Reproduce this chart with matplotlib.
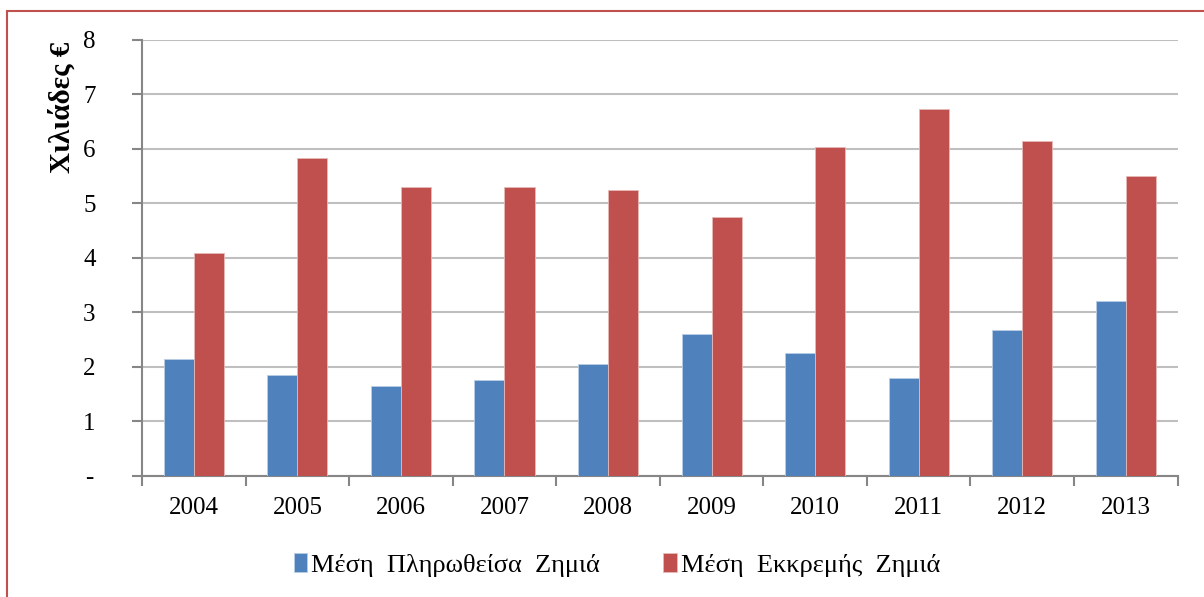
#grafica de barras: ζημιές ανά έτος

import numpy as np
import matplotlib.pyplot as plt
from matplotlib.patches import Rectangle

# datos (χιλιάδες €)
anios = ['2004', '2005', '2006', '2007', '2008', '2009', '2010', '2011', '2012', '2013']
pagada = [2.14, 1.85, 1.65, 1.76, 2.05, 2.60, 2.25, 1.79, 2.67, 3.22]
pendiente = [4.10, 5.83, 5.30, 5.30, 5.24, 4.75, 6.03, 6.73, 6.14, 5.51]
etiquetas_y = ['-', '1', '2', '3', '4', '5', '6', '7', '8']
serie1 = 'Μέση  Πληρωθείσα  Ζημιά'
serie2 = 'Μέση  Εκκρεμής  Ζημιά'

plt.rcParams['font.family'] = ['Liberation Serif', 'DejaVu Serif']

fig = plt.figure(figsize=(12.04, 5.97), dpi=100)
ax = fig.add_axes([0.118, 0.2027, 0.86, 0.7303])

x = np.arange(len(anios))
ancho = 0.29
azul = '#4F81BD'
rojo = '#C0504D'
ax.bar(x - ancho / 2, pagada, ancho, color=azul, edgecolor='#B9CDE5', linewidth=0.6,
       label=serie1, zorder=3)
ax.bar(x + ancho / 2, pendiente, ancho, color=rojo, edgecolor='#E6B9B8', linewidth=0.6,
       label=serie2, zorder=3)

ax.set_xlim(-0.5, len(anios) - 0.5)
ax.set_ylim(0, 8)
ax.set_yticks(np.arange(0, 9))
ax.set_yticklabels(etiquetas_y)
for t in ax.get_yticklabels():
    t.set_ha('center')
ax.set_xticks(x)
ax.set_xticklabels(anios)
ax.set_xticks(np.arange(-0.5, len(anios)), minor=True)

gris = '#868686'
ax.grid(axis='y', color='#BFBFBF', linewidth=1.5, zorder=0)
for s in ['top', 'right']:
    ax.spines[s].set_visible(False)
ax.spines['left'].set_color(gris)
ax.spines['bottom'].set_color(gris)
ax.spines['left'].set_linewidth(1.5)
ax.spines['bottom'].set_linewidth(1.5)
ax.tick_params(axis='y', length=7, width=1.5, color=gris, pad=31, labelsize=18)
ax.tick_params(axis='x', which='major', length=0, pad=15, labelsize=18)
ax.tick_params(axis='x', which='minor', length=7, width=1.5, color=gris)

fig.text(62 / 1204, 1 - 107 / 597, 'Χιλιάδες €', rotation=90, ha='center', va='center',
         fontsize=21, fontweight='bold')

ax.legend(loc='center', bbox_to_anchor=(617 / 1204, 1 - 565 / 597),
          bbox_transform=fig.transFigure, ncol=2, frameon=False, fontsize=19,
          handlelength=0.5, handleheight=0.7, handletextpad=0.15, columnspacing=2.4)

# marco rojo
fig.patches.append(Rectangle((7 / 1204, -0.1), 1.2, 1 - 11 / 597 + 0.1,
                             transform=fig.transFigure, fill=False,
                             edgecolor='#C0504D', linewidth=1.5))

fig.savefig('out.png', dpi=100)
